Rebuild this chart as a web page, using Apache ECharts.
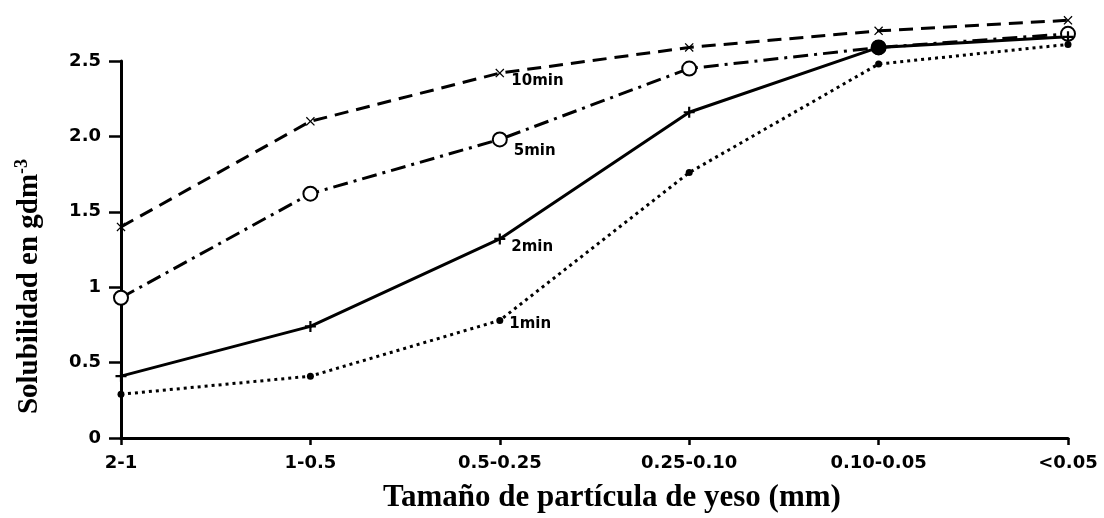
<!DOCTYPE html>
<html>
<head>
<meta charset="utf-8">
<script src="https://cdn.jsdelivr.net/npm/echarts@6/dist/echarts.min.js"></script>
<style>
  html, body { margin: 0; padding: 0; background: #fff; }
  #main { width: 1104px; height: 518px; }
</style>
</head>
<body>
<div id="main"></div>
<script>
var dom = document.getElementById("main");
var myChart = echarts.init(dom);

// datos
var categories = ['2-1', '1-0.5', '0.5-0.25', '0.25-0.10', '0.10-0.05', '<0.05'];
var yTickLabels = ['0', '0.5', '1', '1.5', '2.0', '2.5'];
var min10 = [1.40, 2.10, 2.42, 2.59, 2.70, 2.77];
var min5 = [0.93, 1.62, 1.98, 2.45, 2.59, 2.68];
var min2 = [0.41, 0.74, 1.32, 2.16, 2.59, 2.66];
var min1 = [0.29, 0.41, 0.78, 1.76, 2.48, 2.61];
var seriesNames = ['10min', '5min', '2min', '1min'];
var labelIndex = 2;

var xSym = 'path://M1,0 L5,4 L9,0 L10,1 L6,5 L10,9 L9,10 L5,6 L1,10 L0,9 L4,5 L0,1 Z';
var plusSym = 'path://M4,0 L6,0 L6,4 L10,4 L10,6 L6,6 L6,10 L4,10 L4,6 L0,6 L0,4 L4,4 Z';

function build(name, values, lineType, symbol, size, fill, labelOffset, bigDot) {
    return {
        name: name,
        type: 'line',
        clip: false,
        data: values.map(function (v, i) {
            var d = { value: v };
            if (i === labelIndex) {
                d.label = {
                    show: true,
                    formatter: name,
                    position: 'right',
                    offset: labelOffset,
                    color: '#000',
                    fontFamily: 'DejaVu Sans',
                    fontWeight: 'bold',
                    fontSize: 15
                };
            }
            if (bigDot === i) {
                d.symbol = 'circle';
                d.symbolSize = 15;
                d.itemStyle = { color: '#000', borderWidth: 0 };
            }
            return d;
        }),
        symbol: symbol,
        symbolSize: size,
        showAllSymbol: true,
        lineStyle: { color: '#000', width: 3, type: lineType },
        itemStyle: { color: fill, borderColor: '#000', borderWidth: symbol === 'circle' && fill === '#fff' ? 2 : 0 },
        emphasis: { disabled: true },
        animation: false
    };
}

var option = {
    backgroundColor: '#fff',
    grid: { left: 121, right: 36, top: 61, bottom: 76 },
    xAxis: {
        type: 'category',
        data: categories,
        boundaryGap: false,
        axisLine: { lineStyle: { color: '#000', width: 3 } },
        axisTick: { alignWithLabel: true, length: 7, lineStyle: { color: '#000', width: 2.5 } },
        axisLabel: {
            color: '#000', fontFamily: 'DejaVu Sans', fontWeight: 'bold', fontSize: 18, margin: 16,
            interval: 0
        },
        name: 'Tamaño de partícula de yeso (mm)',
        nameLocation: 'middle',
        nameGap: 44,
        nameTextStyle: {
            color: '#000', fontFamily: 'Liberation Serif', fontWeight: 'bold', fontSize: 31,
            padding: [0, 0, 0, 35]
        }
    },
    yAxis: {
        type: 'value',
        min: 0,
        max: 2.5,
        interval: 0.5,
        splitLine: { show: false },
        axisLine: { show: true, lineStyle: { color: '#000', width: 3 } },
        axisTick: { show: true, length: 12, lineStyle: { color: '#000', width: 2.5 } },
        axisLabel: {
            color: '#000', fontFamily: 'DejaVu Sans', fontWeight: 'bold', fontSize: 18, margin: 20,
            formatter: function (v) { return yTickLabels[Math.round(v / 0.5)]; }
        },
        name: '{a|Solubilidad en gdm}{s|-3}',
        nameLocation: 'middle',
        nameGap: 74,
        nameTextStyle: {
            padding: [0, 74, 0, 0],
            rich: {
                a: { color: '#000', fontFamily: 'Liberation Serif', fontWeight: 'bold', fontSize: 29 },
                s: { color: '#000', fontFamily: 'Liberation Serif', fontWeight: 'bold', fontSize: 18, verticalAlign: 'top', padding: [0, 0, 16, 0] }
            }
        }
    },
    series: [
        build(seriesNames[0], min10, [14, 8], xSym, 9, '#000', [2, 8], -1),
        build(seriesNames[1], min5, [15, 6, 3, 6], 'circle', 14, '#fff', [1, 12], -1),
        build(seriesNames[2], min2, 'solid', plusSym, 11, '#000', [1, 8], 4),
        build(seriesNames[3], min1, [3, 4], 'circle', 7, '#000', [1, 4], -1)
    ]
};
myChart.setOption(option, true);
window.addEventListener("resize", function () {
    myChart.resize();
});
</script>
</body>
</html>
